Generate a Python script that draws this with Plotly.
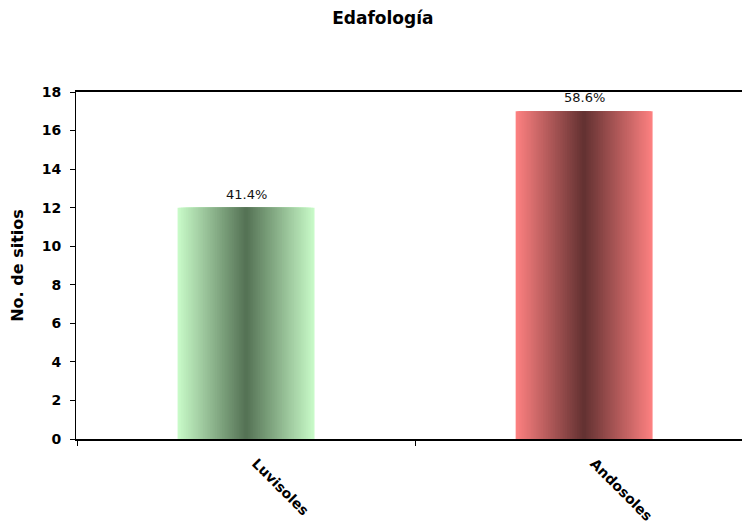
import plotly.graph_objects as go

# Data
categories = ["Luvisoles", "Andosoles"]
sites = [12, 17]
y_ticks = [0, 2, 4, 6, 8, 10, 12, 14, 16, 18]

# Bar styling: light edge colour fading to a dark centre stripe
edge_colors = [(200, 250, 200), (252, 128, 128)]
center_colors = [(85, 115, 85), (100, 50, 50)]
bar_width = 0.405
n_steps = 40

FONT = "DejaVu Sans"

total = sum(sites)
shares = [v / total * 100 for v in sites]


def mix(c1, c2, t):
    return "rgb({},{},{})".format(*[round(a + (b - a) * t) for a, b in zip(c1, c2)])


fig = go.Figure()

# Nested bars, widest first, each narrower bar darker -> horizontal gradient
for k in range(n_steps):
    t = k / (n_steps - 1)
    w = bar_width * (1 - k / n_steps)
    fig.add_trace(go.Bar(
        x=categories,
        y=sites,
        width=[w] * len(categories),
        marker=dict(
            color=[mix(e, c, t) for e, c in zip(edge_colors, center_colors)],
            line=dict(width=0),
        ),
        hoverinfo="skip",
        showlegend=False,
    ))

# Percentage labels above each bar
for cat, val, pct in zip(categories, sites, shares):
    fig.add_annotation(
        x=cat, y=val, text=f"{pct:.1f}%",
        showarrow=False, yanchor="bottom", yshift=4,
        font=dict(family=FONT, size=13, color="#111"),
    )

fig.update_layout(
    barmode="overlay",
    width=742,
    height=527,
    margin=dict(l=76, r=0, t=92, b=88),
    paper_bgcolor="white",
    plot_bgcolor="white",
    font=dict(family=FONT, color="black"),
    title=dict(
        text="<b>Edafología</b>",
        x=0.516, xref="container", xanchor="center",
        y=0.966, yref="container", yanchor="middle",
        font=dict(size=17, color="black"),
    ),
    xaxis=dict(
        type="category",
        range=[-0.503, 1.467],
        showline=True, linecolor="black", linewidth=1.5,
        mirror=True,
        ticks="outside", tickson="boundaries", ticklen=5, tickcolor="black",
        tickangle=45,
        ticklabelshift=10, ticklabelstandoff=9,
        tickfont=dict(size=14, family=FONT, weight="bold"),
        showgrid=False, zeroline=False,
    ),
    yaxis=dict(
        range=[0, 18],
        tickvals=y_ticks,
        showline=True, linecolor="black", linewidth=1,
        ticks="outside", ticklen=5, tickcolor="black",
        ticklabelstandoff=6,
        tickfont=dict(size=14, family=FONT, weight="bold"),
        showgrid=False, zeroline=False,
        title=dict(text="<b>No. de sitios</b>", font=dict(size=16), standoff=14),
    ),
)

fig.write_html("out.html")
